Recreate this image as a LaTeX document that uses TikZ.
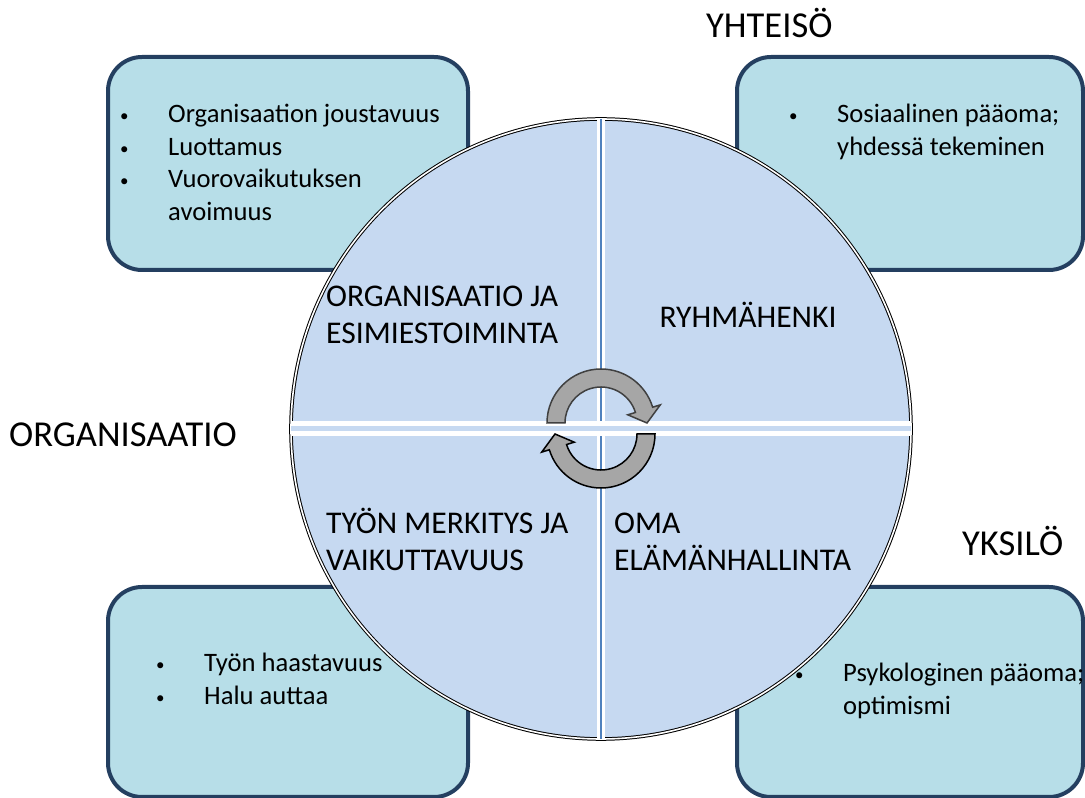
\documentclass[tikz,border=0pt]{standalone}
\usepackage{fontspec}
\setmainfont{Carlito}
\usetikzlibrary{positioning}
\definecolor{cboxfill}{RGB}{183, 222, 232}
\definecolor{cboxline}{RGB}{36, 63, 96}
\definecolor{cdisc}{RGB}{198, 217, 241}
\definecolor{cdivider}{RGB}{79, 129, 189}
\definecolor{ccycle}{RGB}{166, 166, 166}
\tikzset{
	areabox/.style={%
			draw=cboxline,%
			line width=4pt,%
			fill=cboxfill,%
			rounded corners=34pt,%
			inner sep=0},%
	disc/.style={%
			circle,%
			minimum size=620pt,%
			inner sep=0,%
			outer sep=0,%
			fill=cdisc,%
			draw=black,%
			line width=1pt,%
			double=white,%
			double distance=1.6pt},%
	vsplit/.style={white, line width=8pt},%
	vsplitcore/.style={cdivider, line width=2.5pt},%
	hsplit/.style={white, line width=15pt},%
	hsplitcore/.style={cdisc, line width=5pt},%
	cyclearrow/.style={%
			fill=ccycle,%
			draw=black!75,%
			line width=1.5pt,%
			line join=miter},%
	itemtext/.style={inner sep=0, anchor=base west, font={\fontsize{26.6}{32.5}\selectfont}},%
	quadtext/.style={inner sep=0, anchor=base west, font={\fontsize{31.6}{36.5}\selectfont}},%
	leveltext/.style={inner sep=0, anchor=base west, font={\fontsize{36.5}{42}\selectfont}},%
}
\newcommand{\blt}{\makebox[48pt][l]{\raisebox{1pt}{\fontsize{17}{17}\selectfont\textbullet}}}
\newcommand{\indt}{\hspace*{48pt}}

\begin{document}
\begin{tikzpicture}[x=1pt, y=1pt]
	\useasboundingbox (0,0) rectangle (1085,798);

	\node[areabox, minimum width=360pt, minimum height=213pt] (orgbox) at (288,634.5) {};
	\node[areabox, minimum width=346pt, minimum height=213pt] (grpbox) at (910,634.5) {};
	\node[areabox, minimum width=360pt, minimum height=210pt] (workbox) at (288,106) {};
	\node[areabox, minimum width=346pt, minimum height=210pt] (selfbox) at (910,106) {};

	\node[disc] (wheel) at (601,369) {};
	\draw[vsplit] (wheel.north) -- (wheel.south);
	\draw[vsplitcore] (wheel.north) -- (wheel.south);
	\draw[hsplit] (wheel.west) -- (wheel.east);
	\draw[hsplitcore] (wheel.west) -- (wheel.east);

	% cycle in the middle
	\draw[cyclearrow, shift={(601,375)}] (180:54) arc[start angle=180, end angle=17, radius=54]
		-- (17:62) -- (0:46) -- (17:28) -- (17:36) arc[start angle=17, end angle=180, radius=36] -- cycle;
	\draw[cyclearrow, draw=black, shift={(601,364)}, rotate=180] (180:54) arc[start angle=180, end angle=17, radius=54]
		-- (17:62) -- (0:46) -- (17:28) -- (17:36) arc[start angle=17, end angle=180, radius=36] -- cycle;

	\node[quadtext] (leadq) at (326,491) {\begin{tabular}[t]{@{}l@{}}
			ORGANISAATIO JA \\
			ESIMIESTOIMINTA \\
		\end{tabular}};
	\node[quadtext, anchor=base] (spiritq) at (748,470) {RYHMÄHENKI};
	\node[quadtext] (meaningq) at (326,264) {\begin{tabular}[t]{@{}l@{}}
			TYÖN MERKITYS JA \\
			VAIKUTTAVUUS     \\
		\end{tabular}};
	\node[quadtext] (lifeq) at (614,264) {\begin{tabular}[t]{@{}l@{}}
			OMA             \\
			ELÄMÄNHALLINTA  \\
		\end{tabular}};

	\node[leveltext] (orglevel) at (9,351) {ORGANISAATIO};
	\node[leveltext] (grplevel) at (706,760) {YHTEISÖ};
	\node[leveltext] (selflevel) at (962,242) {YKSILÖ};

	\node[itemtext] (orgitems) at (120,675) {\begin{tabular}[t]{@{}l@{}}
			\blt Organisaation joustavuus \\
			\blt Luottamus                \\
			\blt Vuorovaikutuksen         \\
			\indt avoimuus                \\
		\end{tabular}};
	\node[itemtext] (grpitems) at (789,675) {\begin{tabular}[t]{@{}l@{}}
			\blt Sosiaalinen pääoma;      \\
			\indt yhdessä tekeminen       \\
		\end{tabular}};
	\node[itemtext] (workitems) at (156,126) {\begin{tabular}[t]{@{}l@{}}
			\blt Työn haastavuus          \\
			\blt Halu auttaa              \\
		\end{tabular}};
	\node[itemtext] (selfitems) at (795,116) {\begin{tabular}[t]{@{}l@{}}
			\blt Psykologinen pääoma;     \\
			\indt optimismi               \\
		\end{tabular}};
\end{tikzpicture}
\end{document}
